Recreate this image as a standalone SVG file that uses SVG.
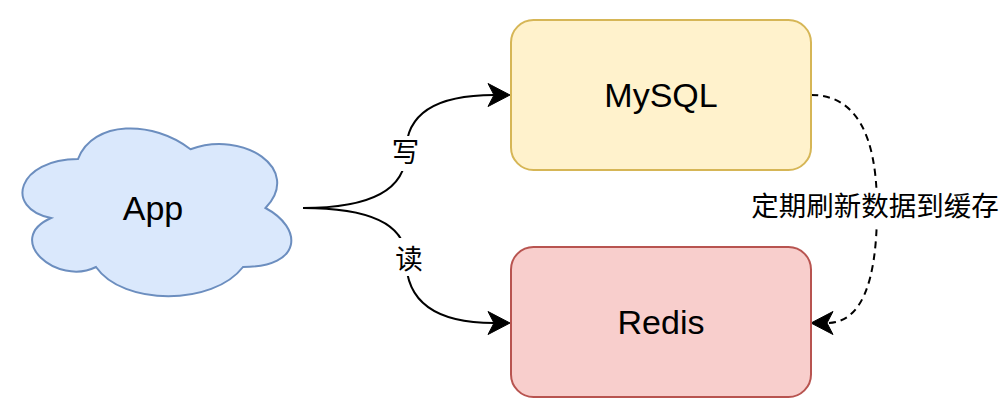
<svg xmlns="http://www.w3.org/2000/svg" width="1008" height="416" viewBox="0 0 1008 416">
  <style>
    .node-text { font-family: "Liberation Sans", Arial, sans-serif; font-size: 34px; fill: #000000; text-anchor: middle; }
    .label { font-family: "Noto Sans CJK SC", "Liberation Sans", sans-serif; font-size: 27.5px; fill: #000000; text-anchor: middle; }
    .edge { fill: none; stroke: #000000; stroke-width: 2; }
    .dashed { stroke-dasharray: 7 5; }
    .label-bg { fill: #ffffff; stroke: none; }
  </style>
  <defs>
    <marker id="arrow" markerUnits="userSpaceOnUse" markerWidth="40" markerHeight="40" viewBox="-10 -20 40 40" refX="0" refY="0" orient="auto">
      <path d="M16,0 L-6,-11.5 L0,0 L-6,11.5 Z" fill="#000000" stroke="#000000" stroke-width="1"/>
    </marker>
  </defs>
  <rect width="1008" height="416" fill="#ffffff"/>

  <g id="connectors">
    <path class="edge" d="M303,208 Q406,208 406,152 Q406,95 494,95" marker-end="url(#arrow)"/>
    <path class="edge" d="M303,208 Q406,208 406,259 Q406,323 494,323" marker-end="url(#arrow)"/>
    <path class="edge dashed" d="M811,95 Q877,95 877,208.5 Q877,323 827,323" marker-end="url(#arrow)"/>
    <g id="label-write">
      <rect class="label-bg" x="392" y="136" width="28" height="35"/>
      <text class="label" x="405.5" y="162">写</text>
    </g>
    <g id="label-read">
      <rect class="label-bg" x="394" y="238" width="30" height="38"/>
      <text class="label" x="409" y="269">读</text>
    </g>
    <g id="label-refresh">
      <rect class="label-bg" x="750" y="189" width="252" height="36"/>
      <text class="label" x="875" y="216">定期刷新数据到缓存</text>
    </g>
  </g>

  <g id="node-app">
    <path d="M78,159 C18,159 3,208 51,218 C3,239.4 57,286.4 96,267 C123,306 213,306 243,267 C303,267 303,228 265.5,208 C303,169 243,129.6 190.5,149.2 C153,120 93,120 78,159 Z" fill="#dae8fc" stroke="#6c8ebf" stroke-width="2"/>
    <text class="node-text" x="153" y="220">App</text>
  </g>

  <g id="node-mysql">
    <rect x="511" y="20" width="300" height="150" rx="22.5" ry="22.5" fill="#fff2cc" stroke="#d6b656" stroke-width="2"/>
    <text class="node-text" x="661" y="107">MySQL</text>
  </g>

  <g id="node-redis">
    <rect x="511" y="247" width="300" height="150" rx="22.5" ry="22.5" fill="#f8cecc" stroke="#b85450" stroke-width="2"/>
    <text class="node-text" x="661" y="334">Redis</text>
  </g>
</svg>
